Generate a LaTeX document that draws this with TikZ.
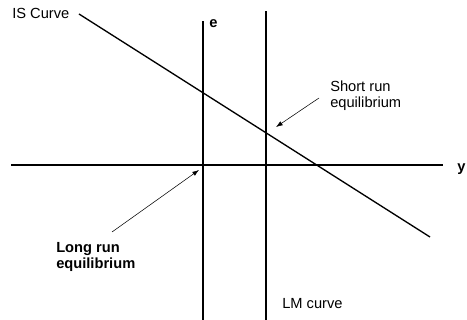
\documentclass[tikz,border=0pt]{standalone}
\usepackage{fontspec}
\setmainfont{Liberation Sans}
\usetikzlibrary{arrows.meta,positioning,calc}

\begin{document}
\begin{tikzpicture}[x=0.75pt, y=-0.75pt, every node/.style={font=\fontsize{11}{12}\selectfont, inner sep=0pt}, >={Latex[length=5pt,width=3.5pt]}]
\useasboundingbox (0,0) rectangle (467,320);
\tikzset{curve/.style={line width=1pt}, pointer/.style={->, line width=0.4pt}}
% axes and curves
\coordinate (ylo) at (11,165);
\coordinate (yhi) at (443,165);
\coordinate (elo) at (203,320);
\coordinate (ehi) at (203,21);
\coordinate (lmlo) at (266,320);
\coordinate (lmhi) at (266,11);
\coordinate (islo) at (430,237);
\coordinate (ishi) at (79,14);
\draw[curve] (ylo) -- (yhi);
\draw[curve] (elo) -- (ehi);
\draw[curve] (lmlo) -- (lmhi);
\draw[curve] (ishi) -- (islo);
% labels
\node[anchor=base west] (islabel) at (12,19) {IS Curve};
\node[anchor=base west, font=\fontsize{11}{12}\selectfont\bfseries] (elabel) at (209,28) {e};
\node[anchor=base west, font=\fontsize{11}{12}\selectfont\bfseries] (ylabel) at (457,172) {y};
\node[anchor=base west] (lmlabel) at (282,308) {LM curve};
\node[anchor=north west, align=left] (srlabel) at (330,81) {Short run\\equilibrium};
\node[anchor=north west, align=left, font=\fontsize{11}{12}\selectfont\bfseries] (lrlabel) at (56,242) {Long run\\equilibrium};
% pointers
\coordinate (srtail) at (319,98);
\coordinate (srhead) at (276,127);
\coordinate (lrtail) at (112,232);
\coordinate (lrhead) at (199,170);
\draw[pointer] (srtail) -- (srhead);
\draw[pointer] (lrtail) -- (lrhead);
\end{tikzpicture}
\end{document}
